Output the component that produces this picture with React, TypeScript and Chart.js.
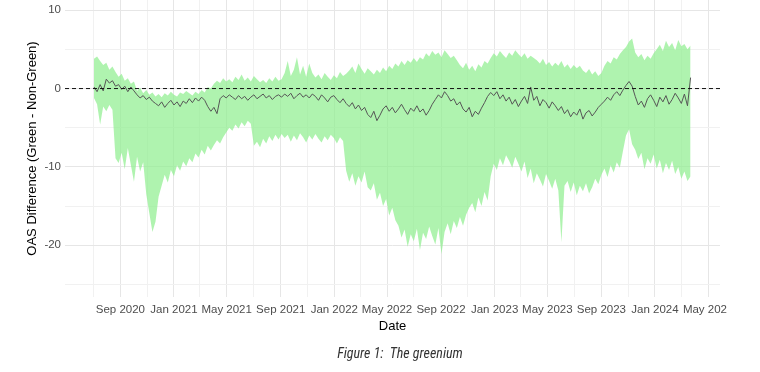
import React, { useEffect, useRef } from 'react';
import { Chart, registerables } from 'chart.js';

Chart.register(...registerables);

// ---- data (weekly samples) ----
const SERIES_START = '2020-07-03';
const STEP_DAYS = 7;

const UPPER = [
  3.8, 4.1, 3.5, 3.0, 3.3, 2.4, 2.8, 2.1, 1.5, 1.9,
  1.0, 1.3, 0.6, 0.9, -0.3, 0.1, -0.6, -0.2, -0.8, -0.5,
  -1.0, -0.7, -1.1, -0.6, -0.9, -0.4, -0.8, -1.0, -0.5, -0.7,
  -0.3, -0.6, -0.9, -0.4, -0.7, -0.2, -0.5, 0.2, 0.0, 0.6,
  1.0, 0.7, 1.3, 0.9, 1.2, 0.8, 1.5, 1.1, 1.8, 1.0,
  1.4, 0.9, 1.6, 1.2, 0.8, 1.1, 0.7, 1.3, 0.9, 1.5,
  1.0, 1.2, 2.0, 3.5, 1.6, 2.4, 4.0, 1.8, 2.9, 1.5,
  3.2, 2.0, 1.4, 1.8, 1.2, 2.0, 1.5, 1.1, 1.7, 1.3,
  2.1, 1.6, 1.9, 2.3, 2.8, 2.0, 3.2, 2.5, 1.9, 2.6,
  2.2, 1.8, 2.4, 2.0, 2.7, 2.2, 2.9, 2.5, 3.2, 2.8,
  3.5, 3.0, 3.6, 3.3, 3.9, 3.4, 4.0, 3.7, 4.5, 4.1,
  4.8, 4.3, 4.6, 4.0, 4.9, 4.4, 3.9, 4.2, 3.6, 3.0,
  2.6, 3.3, 2.4, 2.9, 2.2, 3.1, 2.7, 3.5, 3.2, 3.9,
  4.5, 4.1, 4.8, 4.3, 3.9, 4.6, 4.2, 4.9, 4.4, 4.0,
  4.5, 3.8, 4.2, 3.9, 3.6, 3.2, 3.8, 3.0, 3.4, 2.8,
  3.3, 2.9, 3.5, 2.7, 3.1, 2.5, 3.0, 2.6, 2.9, 2.3,
  2.0, 2.5, 1.8, 2.2, 1.6, 2.0, 2.9, 3.5, 3.2, 4.0,
  3.7, 4.4, 4.9, 5.3, 6.0, 6.4, 4.6, 4.0, 4.4, 3.6,
  4.2, 3.8, 4.5, 5.0, 5.6, 4.8, 6.1, 5.3, 5.8, 4.9,
  6.2, 5.4, 5.7, 5.0, 5.5,
];

const LOWER = [
  -1.2, -2.0, -4.6, -2.3, -2.9, -2.1, -2.7, -8.9, -9.5, -8.2,
  -10.3, -7.6, -9.8, -11.9, -8.7, -10.6, -9.4, -13.5, -15.9, -18.3,
  -17.0, -13.8, -12.4, -11.0, -12.0, -10.4, -11.2, -9.8, -10.5, -9.3,
  -9.9, -8.9, -9.4, -8.3, -8.8, -7.8, -8.4, -7.3, -7.9, -7.2,
  -6.6, -7.0, -6.2, -5.6, -5.0, -5.4, -4.6, -5.1, -4.3, -4.8,
  -4.1, -4.5, -7.3, -6.8, -7.5, -6.4, -7.0, -6.1, -6.7, -5.9,
  -6.5, -5.8, -6.3, -5.9, -6.8, -6.0, -6.6, -5.7, -6.2, -6.9,
  -6.0, -6.5, -5.8, -6.4, -6.9, -6.1, -6.6, -5.9, -6.3, -7.0,
  -6.2, -6.7, -10.5, -11.9, -10.8, -12.4, -11.2, -12.0, -10.6, -12.6,
  -13.0, -12.1, -14.2, -13.3, -15.0, -14.1, -16.2, -15.2, -16.8, -17.5,
  -19.0, -18.0, -20.2, -18.6, -19.5, -17.9, -20.6, -18.4, -19.2, -17.6,
  -18.8, -19.9, -17.8, -21.1, -18.3, -17.2, -18.6, -16.9, -17.8, -16.4,
  -17.5, -16.1, -15.2, -14.6, -15.8, -13.9, -15.0, -13.2, -14.3, -11.2,
  -9.6, -10.4, -8.9, -9.8, -8.5, -9.2, -10.1, -8.7, -9.6, -10.6,
  -9.3, -11.4, -10.2, -12.1, -10.8, -11.6, -12.5, -10.9, -11.8, -12.8,
  -11.5, -13.0, -19.6, -12.4, -11.8, -13.2, -12.0, -13.6, -12.4, -13.1,
  -12.1, -13.4, -12.6, -11.5, -12.2, -11.0, -10.2, -11.3, -9.8, -10.7,
  -9.4, -10.1, -8.0, -6.0, -5.2, -7.1, -7.8, -9.0, -8.2, -10.3,
  -8.9, -9.6, -8.4, -10.2, -9.1, -10.8, -9.5, -10.4, -9.2, -10.9,
  -10.0, -11.5, -10.6, -11.8, -11.2,
];

const MEAN = [
  0.2, -0.4, 0.5, -0.3, 1.2, 0.7, 1.0, 0.3, 0.5, -0.1,
  0.3, -0.4, 0.2, -0.3, -0.8, -1.2, -0.9, -1.4, -1.1, -1.6,
  -1.9, -2.2, -1.7, -2.4, -1.9, -1.5, -2.1, -1.7, -2.3, -1.6,
  -1.9, -1.3, -1.8, -1.2, -1.6, -1.1, -1.5, -2.3, -2.9, -2.4,
  -3.2, -1.3, -0.9, -1.2, -0.8, -1.1, -1.4, -0.9, -1.3, -1.0,
  -1.5, -1.1, -0.8, -1.3, -1.0, -0.7, -1.2, -0.9, -1.4, -1.0,
  -0.8, -1.1, -0.7, -1.0, -0.6, -1.3, -0.9, -0.6, -1.1, -0.8,
  -1.2, -0.7, -1.0, -1.5, -0.8, -1.2, -1.7, -1.1, -0.9, -1.4,
  -1.8, -1.3, -1.9, -2.3, -1.8, -2.6, -2.1, -2.8, -2.4, -3.3,
  -3.7, -2.9, -4.1, -3.4, -2.6, -2.2, -2.9, -2.4, -3.1, -2.6,
  -2.0, -2.7, -3.3, -2.5, -2.9, -2.2, -3.0, -2.6, -3.4, -2.8,
  -2.0, -1.4, -0.8, -1.2, -0.4, -0.9, -1.6, -1.3, -2.1, -1.7,
  -2.6, -3.0, -2.4, -3.6, -2.9, -3.3, -2.5, -1.8, -1.0, -0.5,
  -0.9, -0.4, -1.3, -0.8, -1.6, -1.1, -2.0, -1.4, -2.3, -1.6,
  -1.0, -1.9, 0.2, -1.5, -1.0, -2.2, -1.4, -1.8, -2.5, -1.7,
  -2.2, -2.8, -2.3, -3.2, -2.7, -3.6, -3.0, -3.4, -2.6, -3.9,
  -3.1, -2.8, -3.5, -3.0, -2.4, -2.0, -1.6, -1.1, -1.5, -0.8,
  -0.4, -0.9, -0.2, 0.4, 0.9, 0.3, -1.0, -2.1, -1.6, -2.4,
  -1.3, -0.8, -1.5, -2.3, -1.1, -1.7, -0.9, -2.0, -1.4, -0.6,
  -1.2, -1.9, -0.7, -2.2, 1.4,
];

const REF_LINE_VALUE = 0;

const X_MIN_DATE = '2020-04-28';
const X_MAX_DATE = '2024-05-28';
const X_MAJOR_DATES = [
  '2020-09-01', '2021-01-01', '2021-05-01', '2021-09-01', '2022-01-01', '2022-05-01',
  '2022-09-01', '2023-01-01', '2023-05-01', '2023-09-01', '2024-01-01', '2024-05-01',
];
const X_MAJOR_LABELS = [
  'Sep 2020', 'Jan 2021', 'May 2021', 'Sep 2021', 'Jan 2022', 'May 2022',
  'Sep 2022', 'Jan 2023', 'May 2023', 'Sep 2023', 'Jan 2024', 'May 2024',
];
const X_MINOR_DATES = [
  '2020-07-01', '2020-11-01', '2021-03-01', '2021-07-01', '2021-11-01', '2022-03-01',
  '2022-07-01', '2022-11-01', '2023-03-01', '2023-07-01', '2023-11-01', '2024-03-01',
];

const Y_MIN = -26.6;
const Y_MAX = 11.3;
const Y_MAJOR = [-20, -10, 0, 10];
const Y_MINOR = [-25, -15, -5, 5];

const X_TITLE = 'Date';
const Y_TITLE = 'OAS Difference (Green - Non-Green)';
const CAPTION = 'Figure 1:  The greenium';

// ---- helpers ----
const toDay = (s: string) => {
  const [y, m, d] = s.split('-').map(Number);
  return Date.UTC(y, m - 1, d) / 86400000;
};

export default function App() {
  const canvasRef = useRef<HTMLCanvasElement | null>(null);

  useEffect(() => {
    const canvas = canvasRef.current;
    if (!canvas) return;
    const start = toDay(SERIES_START);
    const xs = MEAN.map((_, i) => start + i * STEP_DAYS);
    const pts = (arr: number[]) => arr.map((v, i) => ({ x: xs[i], y: v }));
    const xMin = toDay(X_MIN_DATE);
    const xMax = toDay(X_MAX_DATE);
    const majorX = X_MAJOR_DATES.map(toDay);
    const minorX = X_MINOR_DATES.map(toDay);
    const labelFor = new Map<number, string>();
    majorX.forEach((v, i) => labelFor.set(v, X_MAJOR_LABELS[i]));
    const allX = [...majorX, ...minorX].sort((a, b) => a - b);
    const allY = [...Y_MAJOR, ...Y_MINOR].sort((a, b) => a - b);

    const tickFont = { family: "'Liberation Sans', Arial, sans-serif", size: 11.5 };
    const titleFont = { family: "'Liberation Sans', Arial, sans-serif", size: 13 };

    const chart = new Chart(canvas, {
      type: 'line',
      data: {
        datasets: [
          {
            data: pts(LOWER),
            borderWidth: 0,
            pointRadius: 0,
            fill: false,
            order: 3,
          },
          {
            data: pts(UPPER),
            borderWidth: 0,
            pointRadius: 0,
            fill: '-1',
            backgroundColor: 'rgba(144,238,144,0.72)',
            order: 2,
          },
          {
            data: pts(MEAN),
            borderColor: '#555555',
            borderWidth: 1,
            pointRadius: 0,
            fill: false,
            order: 1,
          },
          {
            data: [
              { x: xMin, y: REF_LINE_VALUE },
              { x: xMax, y: REF_LINE_VALUE },
            ],
            borderColor: '#111111',
            borderWidth: 1,
            borderDash: [4, 3],
            pointRadius: 0,
            fill: false,
            order: 0,
          },
        ],
      },
      options: {
        responsive: false,
        maintainAspectRatio: false,
        animation: false,
        devicePixelRatio: 1,
        layout: { padding: { left: 0, right: 40, top: 0, bottom: 0 } },
        plugins: {
          legend: { display: false },
          tooltip: { enabled: false },
          title: { display: false },
        },
        elements: { line: { tension: 0 } },
        scales: {
          x: {
            type: 'linear',
            min: xMin,
            max: xMax,
            afterBuildTicks: (axis: any) => {
              axis.ticks = allX.map((v) => ({ value: v }));
            },
            afterFit: (axis: any) => {
              axis.height = 75;
              axis.paddingLeft = 0;
              axis.paddingRight = 0;
            },
            ticks: {
              autoSkip: false,
              maxRotation: 0,
              minRotation: 0,
              padding: 6,
              color: '#4d4d4d',
              font: tickFont,
              callback: (v: any) => labelFor.get(Number(v)) ?? '',
            },
            grid: {
              drawTicks: false,
              color: (ctx: any) => (labelFor.has(ctx.tick?.value) ? '#e6e6e6' : '#f1f1f1'),
              lineWidth: 1,
            },
            border: { display: false },
            title: {
              display: true,
              text: X_TITLE,
              color: '#000000',
              font: titleFont,
              padding: { top: 0, bottom: 38 },
            },
          },
          y: {
            type: 'linear',
            min: Y_MIN,
            max: Y_MAX,
            afterBuildTicks: (axis: any) => {
              axis.ticks = allY.map((v) => ({ value: v }));
            },
            afterFit: (axis: any) => {
              axis.width = 65;
              axis.paddingTop = 0;
              axis.paddingBottom = 0;
            },
            ticks: {
              autoSkip: false,
              padding: 4,
              color: '#4d4d4d',
              font: tickFont,
              callback: (v: any) => (Y_MAJOR.includes(Number(v)) ? String(v) : ''),
            },
            grid: {
              drawTicks: false,
              color: (ctx: any) => (Y_MAJOR.includes(ctx.tick?.value) ? '#e6e6e6' : '#f1f1f1'),
              lineWidth: 1,
            },
            border: { display: false },
            title: {
              display: true,
              text: Y_TITLE,
              color: '#000000',
              font: titleFont,
              padding: { top: 25, bottom: 0 },
            },
          },
        },
      } as any,
    });
    return () => chart.destroy();
  }, []);

  return (
    <div style={{ position: 'fixed', left: 0, top: 0, width: 760, height: 372, background: '#ffffff' }}>
      <div style={{ position: 'absolute', left: 0, top: 0, width: 727, height: 372, overflow: 'hidden' }}>
        <canvas ref={canvasRef} width={760} height={372} style={{ display: 'block', width: 760, height: 372 }} />
      </div>
      <div
        style={{
          position: 'absolute',
          left: 250,
          top: 344,
          width: 300,
          textAlign: 'center',
          fontFamily: "'Liberation Sans Narrow', 'Roboto Condensed', 'Liberation Sans', sans-serif",
          fontStyle: 'italic',
          fontSize: 14,
          lineHeight: '18px',
          color: '#333333',
          whiteSpace: 'pre',
        }}
      >
        {CAPTION}
      </div>
    </div>
  );
}
